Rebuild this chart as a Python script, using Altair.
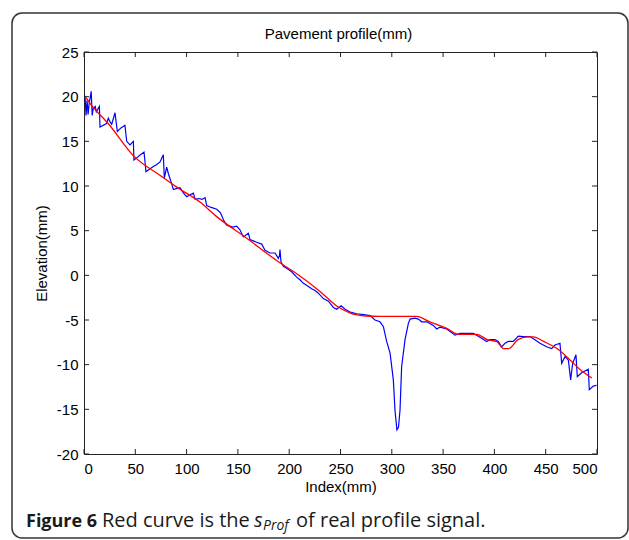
import altair as alt
import pandas as pd

# Measured pavement profile (blue) and its smoothed estimate s_Prof (red)
index_blue = [1, 2, 3, 4, 5, 7, 8, 9, 11, 12, 15, 15.6, 22, 23.7, 25.3, 27, 30.2, 32.5, 36, 39.9,
              41.6, 44.8, 48.1, 48.7, 52, 55, 58.5, 60.4, 64, 68, 71, 74.1, 77.3, 78.3, 80.6, 82.2,
              85, 87.1, 90, 93.6, 97, 100.1, 103, 106.6, 108.3, 112, 115, 118, 119.6, 124, 129.4,
              133, 136, 139.1, 145.5, 148.8, 152, 155.3, 160.2, 161.8, 168.3, 173.2, 176.4, 181.3,
              186.2, 189.4, 190.5, 191, 192, 194.3, 197.5, 202.4, 207.3, 210.5, 213.8, 217, 221.9,
              225.2, 228.4, 233.3, 238.2, 243.1, 246.3, 250.6, 254.5, 259.4, 265.9, 272.4, 278.9,
              283.6, 288.5, 291.8, 295, 298.3, 301.5, 303.1, 305, 306.5, 308, 309.6, 312.9, 316.1,
              317.8, 322.6, 325.9, 329.1, 334, 340.5, 343.7, 347, 353.5, 358.3, 361.6, 366.4, 372.9,
              379.4, 382.7, 387.5, 392.4, 395.6, 400.5, 403.8, 407, 410.3, 413.5, 418.4, 423.3,
              428.2, 434.7, 439.5, 444.4, 450.9, 455.8, 459.1, 463.9, 465.6, 468.8, 472.1, 474.3,
              476.3, 479.5, 480.8, 485, 491.5, 492.5, 496.4, 499.6]
elev_blue = [20.1, 17.9, 19.6, 18.0, 19.2, 20.6, 17.9, 18.7, 18.9, 18.3, 18.9, 16.6, 17.0, 17.6, 17.2,
             16.9, 18.2, 16.1, 16.5, 16.8, 15.0, 14.6, 15.0, 12.9, 13.2, 13.5, 13.8, 11.6, 11.9,
             12.2, 12.4, 12.7, 13.5, 10.9, 12.1, 11.4, 10.4, 9.6, 9.7, 9.8, 9.2, 8.8, 9.0, 9.2, 8.5,
             8.6, 8.5, 8.7, 7.8, 7.6, 7.4, 7.0, 6.2, 5.6, 5.4, 5.5, 5.1, 4.3, 4.7, 4.0, 3.7, 3.5,
             2.8, 2.5, 2.5, 1.9, 2.2, 2.9, 1.5, 1.0, 0.8, 0.4, -0.2, -0.5, -0.9, -1.1, -1.5, -1.7,
             -2.0, -2.6, -2.9, -3.6, -3.8, -3.4, -3.8, -4.1, -4.3, -4.4, -4.5, -5.0, -5.2, -5.75,
             -7.4, -8.7, -11.7, -15.1, -17.3, -17.0, -15.1, -10.2, -7.2, -5.4, -4.9, -4.8, -4.9,
             -5.2, -5.2, -5.6, -6.0, -5.8, -6.0, -6.4, -6.7, -6.5, -6.5, -6.5, -6.7, -7.05, -7.4,
             -7.2, -7.2, -7.4, -8.0, -7.6, -7.4, -7.4, -6.8, -6.85, -6.85, -7.2, -7.6, -8.0, -8.2,
             -7.8, -7.6, -9.85, -9.1, -9.5, -11.7, -9.85, -8.9, -11.35, -10.9, -10.5, -12.8, -12.4,
             -12.3]

index_red = [2, 5, 25, 48, 74, 90, 113, 129, 158, 191, 207, 230, 246, 259, 275, 288, 324, 337, 353,
             365, 383, 393, 402, 409, 414, 423, 432, 438, 448, 461, 474, 484, 495]
elev_red = [19.9, 19.4, 16.8, 13.4, 11.2, 9.9, 8.2, 6.6, 4.2, 1.4, 0.2, -1.8, -3.4, -4.2, -4.55,
            -4.6, -4.6, -5.2, -5.9, -6.6, -6.6, -7.2, -7.4, -8.2, -8.2, -7.2, -6.9, -6.9, -7.4,
            -8.2, -9.5, -10.6, -11.5]

x_ticks = [0, 50, 100, 150, 200, 250, 300, 350, 400, 450, 500]
y_ticks = [-20, -15, -10, -5, 0, 5, 10, 15, 20, 25]

W, H = 513, 402
AXIS_FONT = "Liberation Sans"
CAPTION_FONT = "Open Sans"
INK = "#1a1a1a"

x_scale = alt.Scale(domain=[0, 500], nice=False, zero=False)
y_scale = alt.Scale(domain=[-20, 25], nice=False, zero=False)
plain_label = "'' + datum.value"
x_axis = alt.Axis(values=x_ticks, title="Index(mm)", labelPadding=7, labelExpr=plain_label,
                  titleY=37, titleBaseline="alphabetic")
y_axis = alt.Axis(values=y_ticks, title="Elevation(mm)", labelPadding=6, labelExpr=plain_label,
                  titleX=-38, titleBaseline="alphabetic")


def xe():
    return alt.X("index:Q", scale=x_scale, axis=x_axis)


def ye():
    return alt.Y("elev:Q", scale=y_scale, axis=y_axis)


blue_df = pd.DataFrame({"index": index_blue, "elev": elev_blue})
red_df = pd.DataFrame({"index": index_red, "elev": elev_red})
xt_df = pd.DataFrame({"index": x_ticks})
yt_df = pd.DataFrame({"elev": y_ticks})
one = pd.DataFrame({"k": [0]})

blue = alt.Chart(blue_df).mark_line(color="#0000ff", strokeWidth=1.2).encode(x=xe(), y=ye())
red = alt.Chart(red_df).mark_line(color="#ff0000", strokeWidth=1.3,
                                  interpolate="monotone").encode(x=xe(), y=ye())

# inward tick marks on all four sides of the box
TL = 5
tick_style = dict(color="#222", strokeWidth=1)
ticks_bottom = alt.Chart(xt_df).mark_rule(**tick_style).encode(
    x=xe(), y=alt.value(H), y2=alt.value(H - TL))
ticks_top = alt.Chart(xt_df).mark_rule(**tick_style).encode(
    x=xe(), y=alt.value(0), y2=alt.value(TL))
ticks_left = alt.Chart(yt_df).mark_rule(**tick_style).encode(
    y=ye(), x=alt.value(0), x2=alt.value(TL))
ticks_right = alt.Chart(yt_df).mark_rule(**tick_style).encode(
    y=ye(), x=alt.value(W - TL), x2=alt.value(W))

# rounded frame around the figure and caption
frame = alt.Chart(one).mark_rect(fillOpacity=0, stroke="#333", strokeWidth=1.5,
                                 cornerRadius=10).encode(
    x=alt.value(-72), x2=alt.value(544), y=alt.value(-39), y2=alt.value(486))

# plot title above the box
title = alt.Chart(one).mark_text(
    text="Pavement profile(mm)", font=AXIS_FONT, fontSize=15, color="#000",
    align="center", baseline="alphabetic").encode(x=alt.value(W / 2 - 2), y=alt.value(-13))


def cap(text, x, dy=0, size=20, weight="normal", style="normal"):
    return alt.Chart(one).mark_text(
        text=text, font=CAPTION_FONT, fontSize=size, fontWeight=weight, fontStyle=style,
        align="left", baseline="alphabetic", color=INK).encode(
        x=alt.value(x), y=alt.value(475 + dy))


caption = [
    cap("Figure 6", -58, size=18, weight="bold"),
    cap("Red curve is the", 18),
    cap("s", 170, style="italic"),
    cap("Prof", 179, dy=3, size=14, style="italic"),
    cap("of real profile signal.", 212),
]

chart = alt.layer(
    frame, blue, red, ticks_bottom, ticks_top, ticks_left, ticks_right, title, *caption
).properties(
    width=W, height=H,
    padding={"left": 84, "top": 52, "right": 32, "bottom": 86},
    autosize=alt.AutoSizeParams(type="none"),
).configure_view(
    stroke="#222", strokeWidth=1
).configure_axis(
    labelFont=AXIS_FONT, labelFontSize=15, labelColor="#000",
    titleFont=AXIS_FONT, titleFontSize=15, titleFontWeight="normal", titleColor="#000",
    domain=False, ticks=False, tickSize=0, grid=False
)

chart.save("out.html", embed_options={"renderer": "svg", "actions": False})
